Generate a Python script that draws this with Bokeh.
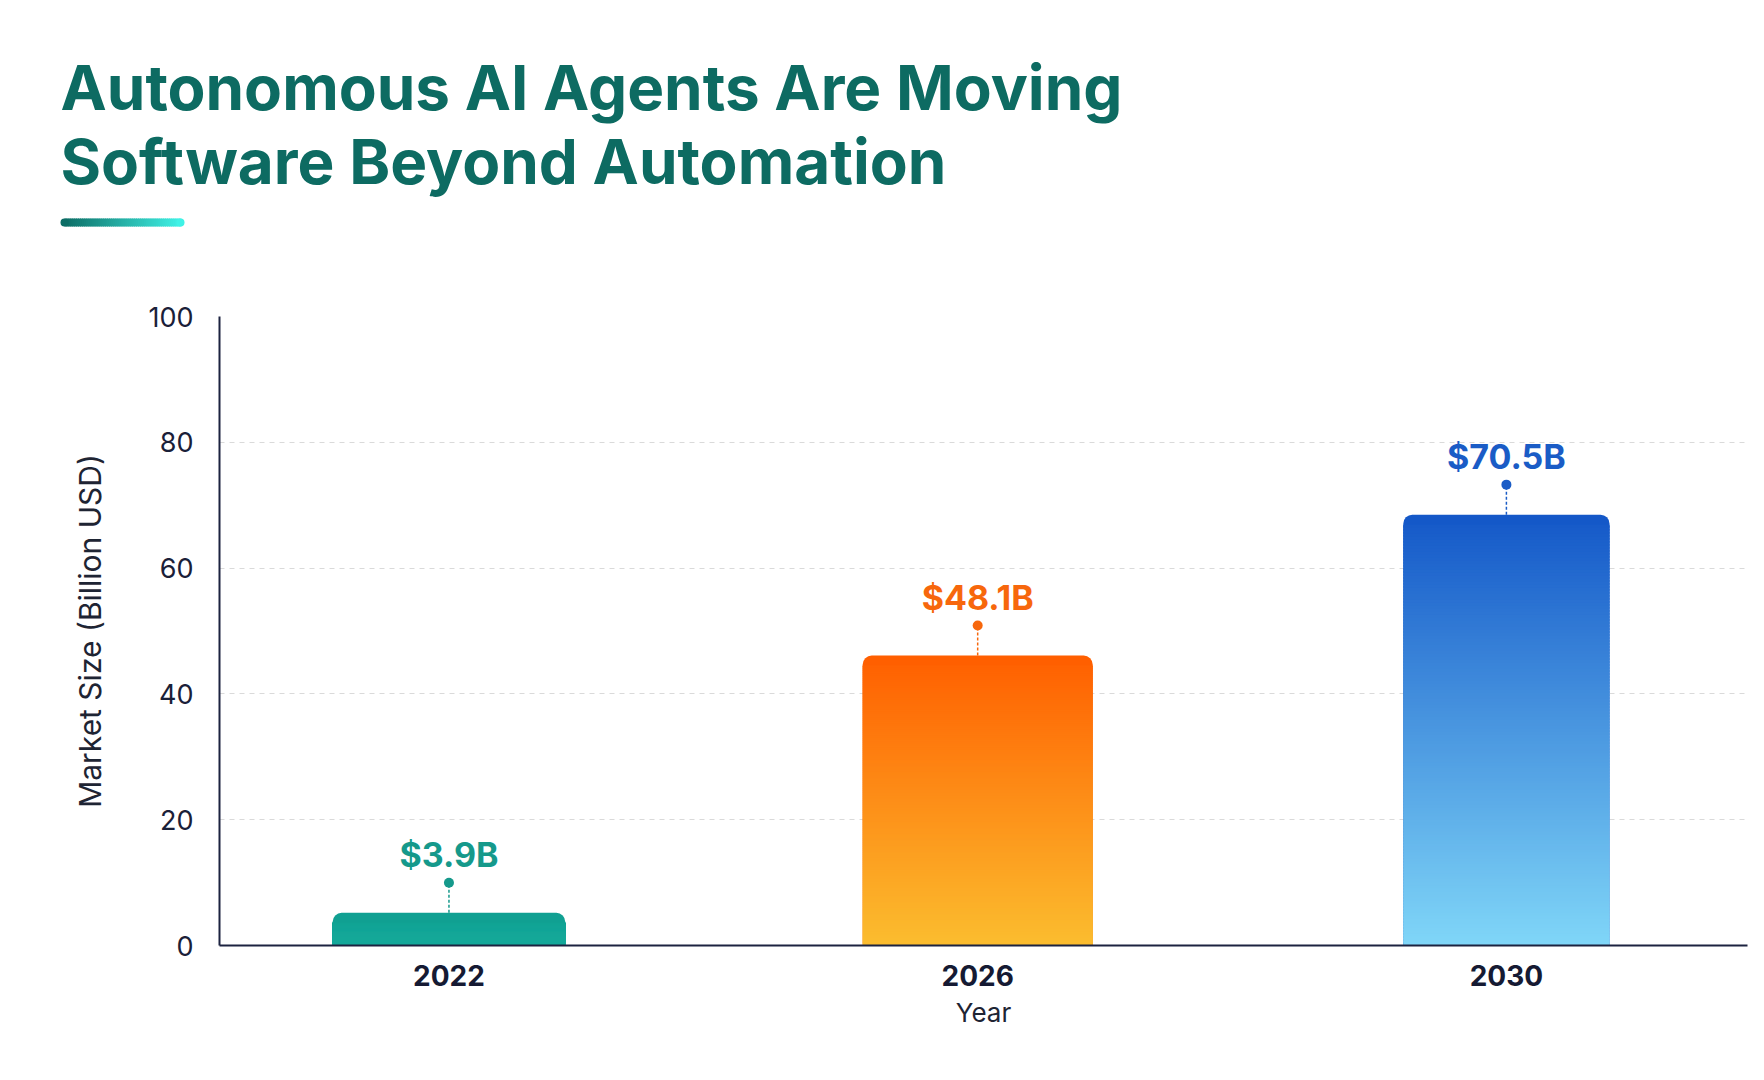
import numpy as np
from bokeh.plotting import figure
from bokeh.layouts import column
from bokeh.models import Range1d, FixedTicker, ColumnDataSource
from bokeh.core.properties import value
from bokeh.embed import file_html
from bokeh.resources import INLINE

# ---------------- data ----------------
title_lines = ["Autonomous AI Agents Are Moving", "Software Beyond Automation"]
years = ["2022", "2026", "2030"]
bar_values = [5.2, 46.1, 68.5]          # bar heights as drawn
value_labels = ["$3.9B", "$48.1B", "$70.5B"]
y_ticks = [0, 20, 40, 60, 80, 100]
x_axis_title = "Year"
y_axis_title = "Market Size (Billion USD)"

# ---------------- styles ----------------
top_colors = ["#10a092", "#ff5f00", "#1458c8"]
bottom_colors = ["#16aa9b", "#fbbd2f", "#80d6f8"]
label_colors = ["#15998b", "#f7670c", "#1a5cc6"]
bar_widths = [0.44, 0.435, 0.39]
TITLE_COLOR = "#0d6b62"
INK = "#1a2038"
FONT = "Inter"

W = 1748
H_TITLE = 260
H_CHART = 1064 - H_TITLE


def hex2rgb(h):
    h = h.lstrip("#")
    return np.array([int(h[i:i + 2], 16) for i in (0, 2, 4)], dtype=float)


def mix(c0, c1, t):
    a, b = hex2rgb(c0), hex2rgb(c1)
    c = a + (b - a) * t
    return "#%02x%02x%02x" % tuple(int(round(v)) for v in c)


# ---------------- title figure ----------------
tf = figure(width=W, height=H_TITLE, output_backend="svg", toolbar_location=None,
            x_range=Range1d(0, W), y_range=Range1d(H_TITLE, 0),
            x_axis_type=None, y_axis_type=None, min_border=0)
tf.outline_line_color = None
tf.grid.visible = False
tf.background_fill_color = "white"
tf.border_fill_color = "white"

tsrc = ColumnDataSource(dict(x=[60, 60], y=[87, 161], text=title_lines))
tf.text(x="x", y="y", text="text", source=tsrc, text_font=value(FONT),
        text_font_style="bold", text_font_size=value("62px"),
        text_color=TITLE_COLOR, text_baseline="alphabetic", text_align="left")

# gradient underline
n_u = 60
ux0, ux1, uy0, uy1 = 64.0, 180.0, 218.0, 226.0
edges = np.linspace(ux0, ux1, n_u + 1)
ucols = [mix("#0d6e66", "#40f2e6", (i + 0.5) / n_u) for i in range(n_u)]
tf.quad(left=edges[:-1], right=edges[1:] + 1.0, top=[uy1] * n_u, bottom=[uy0] * n_u,
        fill_color=ucols, line_color=None)
tf.scatter(x=[ux0, ux1], y=[(uy0 + uy1) / 2] * 2, size=8,
           fill_color=["#0d6e66", "#40f2e6"], line_color=None)

# ---------------- chart figure ----------------
xs = list(range(len(years)))
p = figure(width=W, height=H_CHART, output_backend="svg", toolbar_location=None,
           x_range=Range1d(-0.434, 2.456), y_range=Range1d(0, 100),
           min_border_left=219, min_border_right=1, min_border_top=56,
           min_border_bottom=119)
p.outline_line_color = None
p.background_fill_color = "white"
p.border_fill_color = "white"

for fig in (tf, p):
    try:
        fig.frame_align = False
    except Exception:
        pass

# grid
p.xgrid.grid_line_color = None
p.ygrid.ticker = FixedTicker(ticks=y_ticks)
p.ygrid.grid_line_color = "#dadada"
p.ygrid.grid_line_dash = "5 5"
p.ygrid.grid_line_width = 1

# bars: rounded base + gradient slices
rpad = 1.6
p.vbar(x=xs, top=bar_values, bottom=0, width=bar_widths, fill_color=top_colors,
       line_color=None, border_radius=(9, 9, 0, 0))
n_s = 140
sx, sb, st, sw, sc = [], [], [], [], []
for i, v in enumerate(bar_values):
    hmax = max(v - rpad, 0)
    e = np.linspace(0, hmax, n_s + 1)
    for j in range(n_s):
        sx.append(xs[i])
        sb.append(e[j])
        st.append(min(e[j + 1] + 0.3, hmax))
        sw.append(bar_widths[i])
        tmid = ((e[j] + e[j + 1]) / 2) / v
        sc.append(mix(bottom_colors[i], top_colors[i], tmid))
p.vbar(x=sx, bottom=sb, top=st, width=sw, fill_color=sc, line_color=None)

# stems, dots and value labels
gap = 4.77          # dot height above bar top (data units, ~30px)
lab_gap = 4.45      # label anchor above dot (data units)
tops = list(bar_values)
dots = [v + gap for v in bar_values]
labs = [d + lab_gap for d in dots]
p.segment(x0=xs, y0=tops, x1=xs, y1=dots, line_color=label_colors,
          line_width=1.5, line_dash="3 2")
p.scatter(x=xs, y=dots, size=10, fill_color=label_colors, line_color=None)
p.text(x=xs, y=labs, text=value_labels, text_align="center",
       text_baseline="alphabetic", text_font=value(FONT), text_font_style="bold",
       text_font_size=value("34px"), text_color=label_colors)

# axes
for ax in (p.xaxis[0], p.yaxis[0]):
    ax.axis_line_color = "#1c2340"
    ax.axis_line_width = 2
    ax.major_tick_line_color = None
    ax.minor_tick_line_color = None
    ax.major_tick_out = 0
    ax.major_tick_in = 0
    ax.minor_tick_out = 0
    ax.major_label_text_font = FONT
    ax.axis_label_text_font = FONT
    ax.axis_label_text_font_style = "normal"
    ax.axis_label_text_color = "#1e2433"

p.yaxis.ticker = FixedTicker(ticks=y_ticks)
p.yaxis.major_label_text_font_size = "27px"
p.yaxis.major_label_text_color = INK
p.yaxis.major_label_standoff = 26
p.yaxis.axis_label = y_axis_title
p.yaxis.axis_label_text_font_size = "30px"
p.yaxis.axis_label_standoff = 37

p.xaxis.ticker = FixedTicker(ticks=xs)
p.xaxis.major_label_overrides = {i: y for i, y in zip(xs, years)}
p.xaxis.major_label_text_font_size = "28px"
p.xaxis.major_label_text_font_style = "bold"
p.xaxis.major_label_text_color = "#151a33"
p.xaxis.major_label_standoff = 19
p.xaxis.axis_label = x_axis_title
p.xaxis.axis_label_text_font_size = "26px"
p.xaxis.axis_label_standoff = 8

layout = column(tf, p, spacing=0)
open("out.html", "w").write(file_html(layout, INLINE))
